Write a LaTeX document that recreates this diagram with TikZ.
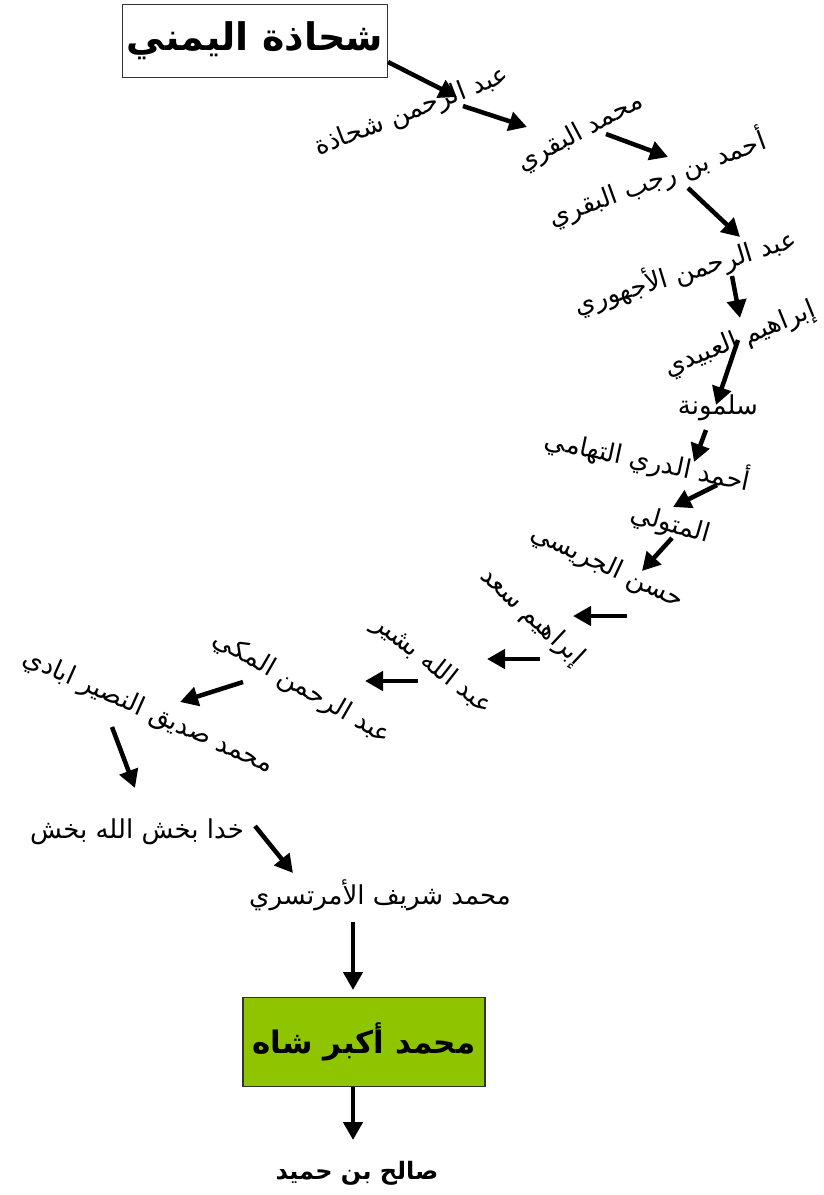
\documentclass[tikz,border=0pt]{standalone}
\usepackage{fontspec}
\usepackage{tikz}
\usetikzlibrary{arrows.meta,calc}
\TeXXeTstate=1
\newfontfamily\arabicfont[Script=Arabic]{DejaVu Sans}
\newcommand{\artext}[1]{\beginR #1\endR}
\definecolor{chainGreen}{RGB}{142,196,0}
\tikzset{
  lbl/.style={font=\arabicfont\fontsize{26}{30}\selectfont,inner sep=1pt},
  arr/.style={line width=4.5pt,-{Triangle[length=18pt,width=19pt]}},
}

\begin{document}
\begin{tikzpicture}[x=1pt,y=-1pt]
\useasboundingbox (0,0) rectangle (823,1195);
\node[draw=black!80,line width=1.2pt,minimum width=265pt,minimum height=73pt,font=\arabicfont\bfseries\fontsize{38}{44}\selectfont] (top) at (255,41) {\artext{شحاذة اليمني}};
\node[lbl,rotate=21] (n1) at (412,112) {\artext{عبد الرحمن شحاذة}};
\node[lbl,rotate=28] (n2) at (580,133) {\artext{محمد البقري}};
\node[lbl,rotate=20] (n3) at (657,178) {\artext{أحمد بن رجب البقري}};
\node[lbl,rotate=17] (n4) at (685,272) {\artext{عبد الرحمن الأجهوري}};
\node[lbl,rotate=22] (n5) at (740,340) {\artext{إبراهيم العبيدي}};
\node[lbl] (n6) at (718,408) {\artext{سلمونة}};
\node[lbl,rotate=-12] (n7) at (648,460) {\artext{أحمد الدري التهامي}};
\node[lbl,rotate=-16] (n8) at (670,525) {\artext{المتولي}};
\node[lbl,rotate=-25] (n9) at (607,567) {\artext{حسن الجريسي}};
\node[lbl,rotate=-43] (n10) at (532,617) {\artext{إبراهيم سعد}};
\node[lbl,rotate=-38] (n11) at (432,665) {\artext{عبد الله بشير}};
\node[lbl,rotate=-30] (n12) at (302,688) {\artext{عبد الرحمن المكي}};
\node[lbl,rotate=-24] (n13) at (148,712) {\artext{محمد صديق النصير ابادي}};
\node[lbl] (n14) at (137,832) {\artext{خدا بخش الله بخش}};
\node[lbl] (n15) at (380,895) {\artext{محمد شريف الأمرتسري}};
\node[draw=black!80,line width=1.2pt,fill=chainGreen,minimum width=242pt,minimum height=89pt,font=\arabicfont\bfseries\fontsize{31}{37}\selectfont] (akbar) at (364,1042) {\artext{محمد أكبر شاه}};
\node[lbl,font=\arabicfont\bfseries\fontsize{24}{28}\selectfont] (salih) at (357,1173) {\artext{صالح بن حميد}};
\draw[arr] ($(top)+(133,21)$) -- ($(n1)+(45,-15)$);
\draw[arr] ($(n1)+(51,-6)$) -- ($(n2)+(-53,-6)$);
\draw[arr] ($(n2)+(26,1)$) -- ($(n3)+(11,-21)$);
\draw[arr] ($(n3)+(31,10)$) -- ($(n4)+(55,-35)$);
\draw[arr] ($(n4)+(47,4)$) -- ($(n5)+(0,-22)$);
\draw[arr] ($(n5)+(-2,0)$) -- ($(n6)+(-2,-3)$);
\draw[arr] ($(n6)+(-12,22)$) -- ($(n7)+(46,2)$);
\draw[arr] ($(n7)+(69,25)$) -- ($(n8)+(3,-18)$);
\draw[arr] ($(n8)+(2,13)$) -- ($(n9)+(35,4)$);
\draw[arr] ($(n9)+(20,49)$) -- ($(n10)+(41,-1)$);
\draw[arr] ($(n10)+(8,42)$) -- ($(n11)+(55,-6)$);
\draw[arr] ($(n11)+(-14,16)$) -- ($(n12)+(63,-7)$);
\draw[arr] ($(n12)+(-59,-6)$) -- ($(n13)+(32,-10)$);
\draw[arr] ($(n13)+(-36,15)$) -- ($(n14)+(-2,-44)$);
\draw[arr] ($(n14)+(118,-6)$) -- ($(n15)+(-87,-22)$);
\draw[arr] ($(n15)+(-27,27)$) -- ($(akbar)+(-11,-52)$);
\draw[arr] ($(akbar)+(-11,45)$) -- ($(salih)+(-4,-33)$);
\end{tikzpicture}
\end{document}
